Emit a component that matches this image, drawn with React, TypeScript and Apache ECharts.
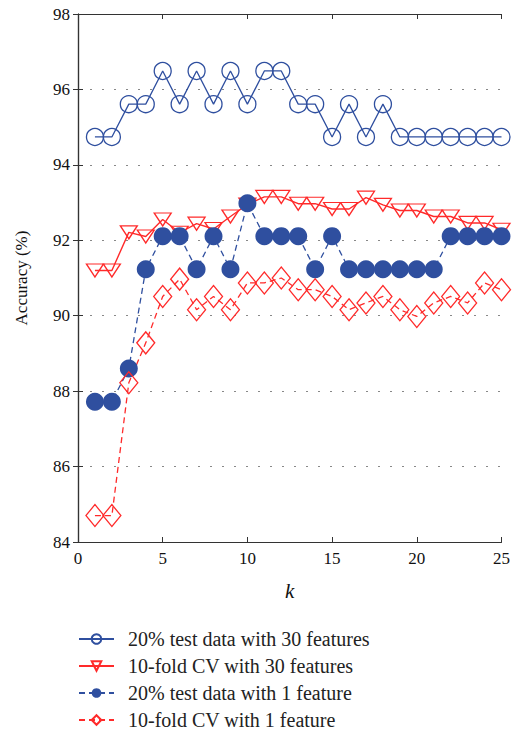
import React, { useEffect, useRef } from "react";
import * as echarts from "echarts";

const kValues = [1,2,3,4,5,6,7,8,9,10,11,12,13,14,15,16,17,18,19,20,21,22,23,24,25];
const test30 = [94.74,94.74,95.61,95.61,96.49,95.61,96.49,95.61,96.49,95.61,96.49,96.49,95.61,95.61,94.74,95.61,94.74,95.61,94.74,94.74,94.74,94.74,94.74,94.74,94.74];
const cv30 = [91.2,91.2,92.21,92.1,92.55,92.2,92.44,92.3,92.63,92.95,93.15,93.15,92.97,92.97,92.83,92.83,93.13,92.94,92.79,92.79,92.63,92.63,92.46,92.46,92.28];
const test1 = [87.72,87.72,88.6,91.23,92.11,92.11,91.23,92.11,91.23,92.98,92.11,92.11,92.11,91.23,92.11,91.23,91.23,91.23,91.23,91.23,91.23,92.11,92.11,92.11,92.11];
const cv1 = [84.7,84.7,88.22,89.28,90.51,90.97,90.16,90.51,90.16,90.87,90.87,91.0,90.69,90.69,90.51,90.16,90.34,90.51,90.16,89.98,90.34,90.51,90.34,90.87,90.69];
const seriesNames = [
  "20% test data with 30 features",
  "10-fold CV with 30 features",
  "20% test data with 1 feature",
  "10-fold CV with 1 feature",
];

const BLUE = "#2f4f9f";
const RED = "#ff2a2a";
const FONT = "'Liberation Serif', 'DejaVu Serif', serif";

export default function App() {
  const ref = useRef<HTMLDivElement>(null);
  useEffect(() => {
    if (!ref.current) return;
    const chart = echarts.init(ref.current, null, { renderer: "svg" });
    const pts = (arr: number[]) => kValues.map((k, i) => [k, arr[i]]);
    chart.setOption({
      animation: false,
      backgroundColor: "#fff",
      textStyle: { fontFamily: FONT },
      grid: { left: 78, right: 10, top: 14, bottom: 189, containLabel: false },
      legend: {
        orient: "vertical",
        left: 78,
        top: 629,
        padding: 0,
        itemWidth: 35,
        itemHeight: 12,
        itemGap: 7,
        textStyle: { fontFamily: FONT, fontSize: 20, lineHeight: 20, color: "#222", padding: [0, 0, 0, 9] },
        data: seriesNames,
      },
      xAxis: [
        {
          type: "value", min: 0, max: 25, interval: 5, position: "bottom",
          name: "k", nameLocation: "middle", nameGap: 38,
          nameTextStyle: { fontFamily: FONT, fontSize: 21, fontStyle: "italic", color: "#111" },
          axisLine: { show: true, lineStyle: { color: "#333", width: 1.2 } },
          axisTick: { show: true, inside: true, length: 5, lineStyle: { color: "#333" } },
          axisLabel: { fontFamily: FONT, fontSize: 17, color: "#111", margin: 8 },
          splitLine: { show: false },
        },
        {
          type: "value", min: 0, max: 25, interval: 5, position: "top",
          axisLine: { show: true, lineStyle: { color: "#333", width: 1.2 } },
          axisTick: { show: true, inside: true, length: 5, lineStyle: { color: "#333" } },
          axisLabel: { show: false },
          splitLine: { show: false },
        },
      ],
      yAxis: [
        {
          type: "value", min: 84, max: 98, interval: 2, position: "left",
          name: "Accuracy (%)", nameLocation: "middle", nameGap: 48, nameRotate: 90,
          nameTextStyle: { fontFamily: FONT, fontSize: 17, color: "#111" },
          axisLine: { show: true, lineStyle: { color: "#333", width: 1.2 } },
          axisTick: { show: true, inside: true, length: 5, lineStyle: { color: "#333" } },
          axisLabel: { fontFamily: FONT, fontSize: 17, color: "#111", margin: 8 },
          splitLine: { show: true, lineStyle: { color: "#888", type: [2, 10], width: 1 } },
        },
        {
          type: "value", min: 84, max: 98, interval: 2, position: "right",
          axisLine: { show: true, lineStyle: { color: "#333", width: 1.2 } },
          axisTick: { show: true, inside: true, length: 5, lineStyle: { color: "#333" } },
          axisLabel: { show: false },
          splitLine: { show: false },
        },
      ],
      series: [
        {
          name: seriesNames[0], type: "line", data: pts(test30),
          symbol: "circle", symbolSize: 17,
          itemStyle: { color: "rgba(255,255,255,0)", borderColor: BLUE, borderWidth: 1.3 },
          lineStyle: { color: BLUE, width: 1.3 },
        },
        {
          name: seriesNames[1], type: "line", data: pts(cv30),
          symbol: "triangle", symbolRotate: 180, symbolSize: [17, 13],
          itemStyle: { color: "rgba(255,255,255,0)", borderColor: RED, borderWidth: 1.3 },
          lineStyle: { color: RED, width: 1.4 },
        },
        {
          name: seriesNames[2], type: "line", data: pts(test1),
          symbol: "circle", symbolSize: 18,
          itemStyle: { color: BLUE, borderColor: BLUE, borderWidth: 0 },
          lineStyle: { color: BLUE, width: 1.3, type: [6, 4] },
        },
        {
          name: seriesNames[3], type: "line", data: pts(cv1),
          symbol: "diamond", symbolSize: [18, 22],
          itemStyle: { color: "rgba(255,255,255,0)", borderColor: RED, borderWidth: 1.3 },
          lineStyle: { color: RED, width: 1.3, type: [6, 4] },
        },
      ],
    });
    return () => chart.dispose();
  }, []);
  return <div ref={ref} style={{ position: "absolute", left: 0, top: 0, width: 513, height: 731 }} />;
}
